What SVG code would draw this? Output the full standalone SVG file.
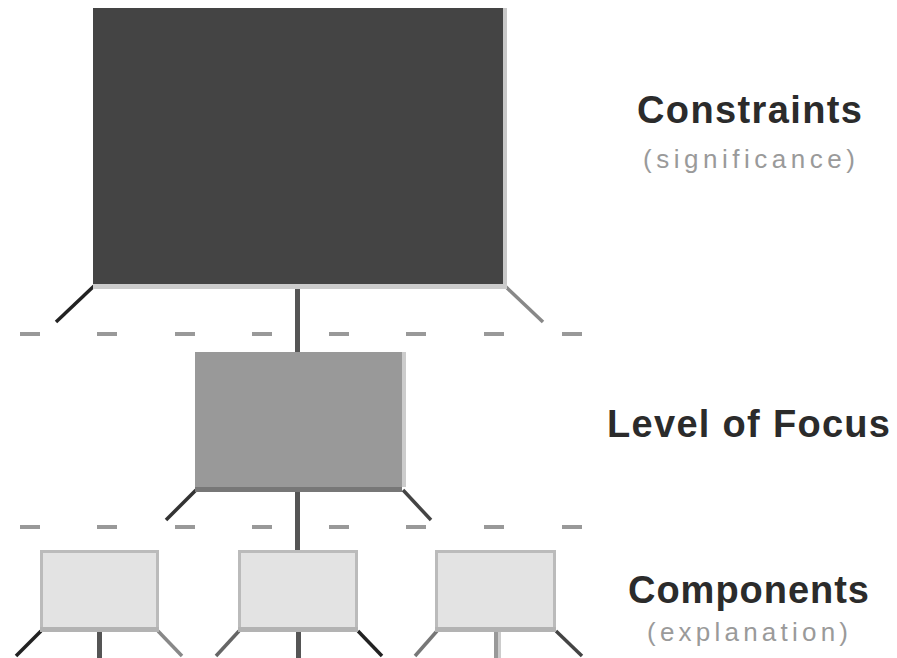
<svg xmlns="http://www.w3.org/2000/svg" width="897" height="658" viewBox="0 0 897 658">
<style>
.title{font-family:"Liberation Sans",Arial,sans-serif;font-weight:bold;font-size:38px;fill:#2b2b2b;}
.sub{font-family:"Liberation Sans",Arial,sans-serif;font-size:26px;fill:#9a9a9a;}
.dash{stroke:#999;stroke-width:4;}
.comp{fill:#e3e3e3;stroke:#bbb;stroke-width:3;}
.diag{stroke-width:3.5;fill:none;}
</style>
<rect width="897" height="658" fill="#fff"/>
<g id="levels">
<g class="dash">
<line x1="20" y1="334" x2="40" y2="334"/><line x1="97" y1="334" x2="117" y2="334"/><line x1="175" y1="334" x2="195" y2="334"/><line x1="252" y1="334" x2="272" y2="334"/><line x1="329" y1="334" x2="349" y2="334"/><line x1="406" y1="334" x2="426" y2="334"/><line x1="484" y1="334" x2="504" y2="334"/><line x1="562" y1="334" x2="582" y2="334"/>
<line x1="20" y1="527" x2="40" y2="527"/><line x1="97" y1="527" x2="117" y2="527"/><line x1="175" y1="527" x2="195" y2="527"/><line x1="252" y1="527" x2="272" y2="527"/><line x1="329" y1="527" x2="349" y2="527"/><line x1="406" y1="527" x2="426" y2="527"/><line x1="484" y1="527" x2="504" y2="527"/><line x1="562" y1="527" x2="582" y2="527"/>
</g>
</g>
<g id="connectors">
<rect x="295" y="288" width="5" height="66" fill="#555"/>
<rect x="295" y="492" width="5" height="60" fill="#555"/>
<line class="diag" x1="94" y1="286" x2="56" y2="322" stroke="#222"/>
<line class="diag" x1="505" y1="286" x2="543" y2="322" stroke="#888"/>
<line class="diag" x1="196" y1="490" x2="166" y2="520" stroke="#333"/>
<line class="diag" x1="403" y1="490" x2="431" y2="520" stroke="#444"/>
<line class="diag" x1="41" y1="631" x2="16" y2="656" stroke="#222"/>
<line class="diag" x1="158" y1="631" x2="182" y2="656" stroke="#888"/>
<rect x="97" y="632" width="5" height="26" fill="#555"/>
<line class="diag" x1="239" y1="631" x2="216" y2="656" stroke="#666"/>
<line class="diag" x1="358" y1="631" x2="382" y2="656" stroke="#222"/>
<rect x="296" y="632" width="5" height="26" fill="#555"/>
<line class="diag" x1="437" y1="631" x2="415" y2="656" stroke="#777"/>
<line class="diag" x1="556" y1="631" x2="582" y2="656" stroke="#444"/>
<rect x="494" y="632" width="4" height="26" fill="#999"/>
<rect x="498" y="632" width="3" height="26" fill="#ccc"/>
</g>
<g id="constraints">
<rect x="93" y="8" width="410" height="276" fill="#444"/>
<rect x="503" y="8" width="4" height="276" fill="#c8c8c8"/>
<rect x="93" y="284" width="414" height="5" fill="#ccc"/>
<text class="title" x="637" y="123" textLength="225" lengthAdjust="spacing">Constraints</text>
<text class="sub" x="643" y="168" textLength="212" lengthAdjust="spacing">(significance)</text>
</g>
<g id="focus">
<rect x="195" y="352" width="207" height="135" fill="#999"/>
<rect x="402" y="352" width="4" height="135" fill="#ccc"/>
<rect x="195" y="487" width="207" height="5" fill="#777"/>
<text class="title" x="607" y="437" textLength="283" lengthAdjust="spacing">Level of Focus</text>
</g>
<g id="components">
<g id="component1">
<rect class="comp" x="41.5" y="551.5" width="116" height="77"/>
<rect x="40" y="627" width="119" height="5" fill="#b3b3b3"/>
</g>
<g id="component2">
<rect class="comp" x="239.5" y="551.5" width="117" height="77"/>
<rect x="238" y="627" width="120" height="5" fill="#b3b3b3"/>
</g>
<g id="component3">
<rect class="comp" x="436.5" y="551.5" width="118" height="77"/>
<rect x="435" y="627" width="121" height="5" fill="#b3b3b3"/>
</g>
<text class="title" x="628" y="603" textLength="241" lengthAdjust="spacing">Components</text>
<text class="sub" x="647" y="641" textLength="201" lengthAdjust="spacing">(explanation)</text>
</g>
</svg>
